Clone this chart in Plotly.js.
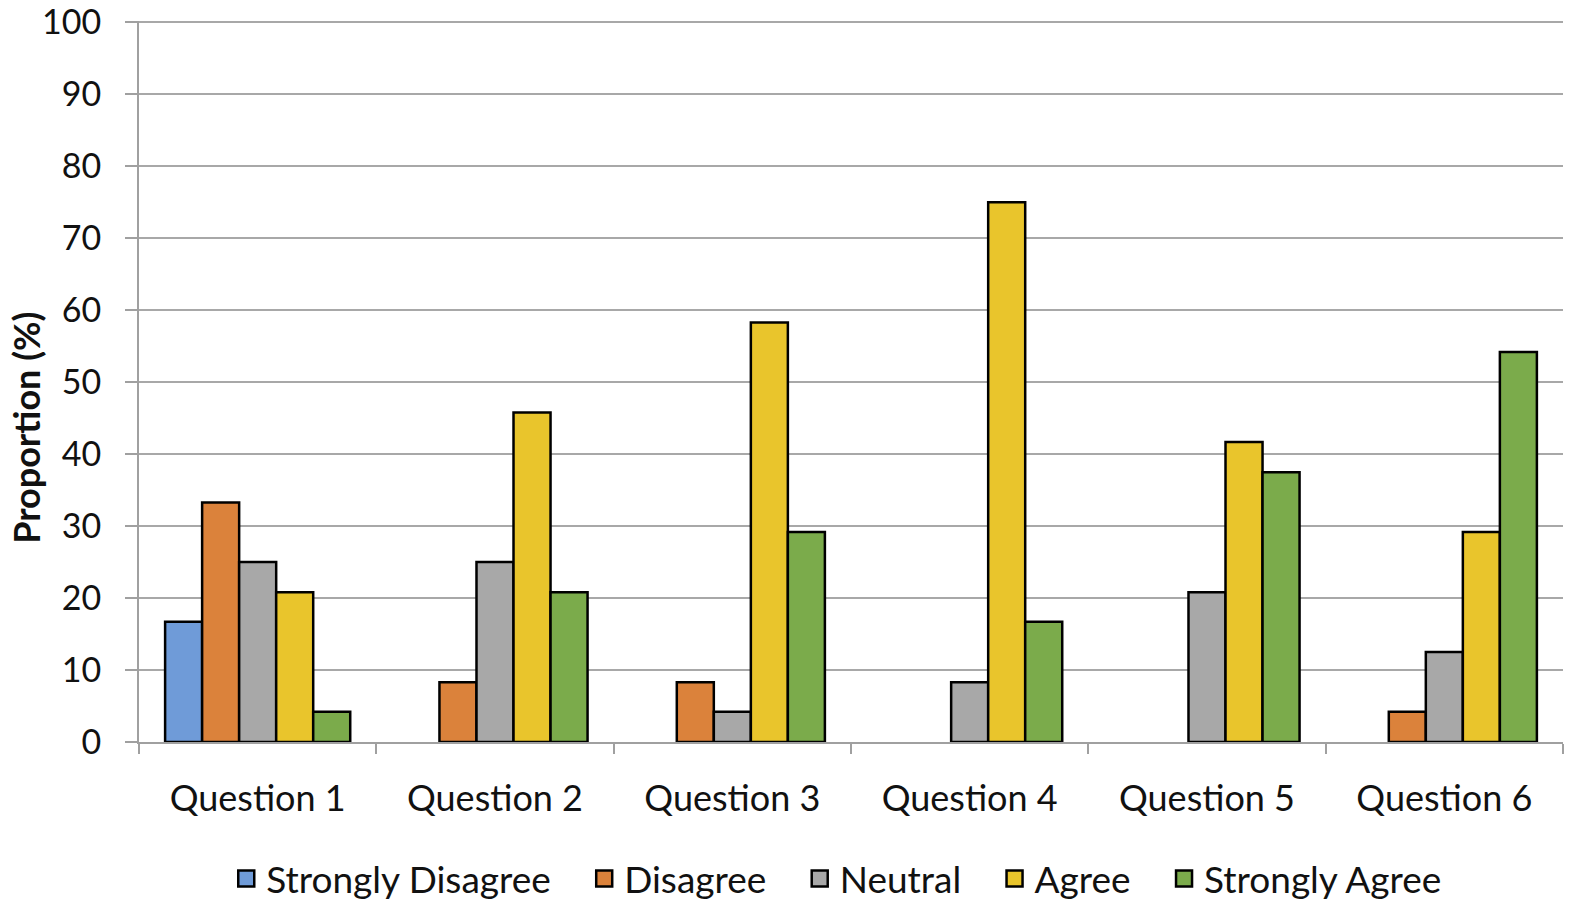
<!DOCTYPE html>
<html>
<head>
<meta charset="utf-8">
<script src="https://cdn.plot.ly/plotly-3.0.1.min.js"></script>
<style>html,body{margin:0;padding:0;background:#fff}#chart{width:1570px;height:904px}</style>
</head>
<body>
<div id="chart"></div>
<script>
const categories = ["Question 1","Question 2","Question 3","Question 4","Question 5","Question 6"];
// null = no bar drawn in the reference
const stronglyDisagree = [16.7, null, null, null, null, null];
const disagree = [33.3, 8.3, 8.3, null, null, 4.2];
const neutral = [25, 25, 4.2, 8.3, 20.8, 12.5];
const agree = [20.8, 45.8, 58.3, 75, 41.7, 29.2];
const stronglyAgree = [4.2, 20.8, 29.2, 16.7, 37.5, 54.2];
const seriesNames = ["Strongly Disagree","Disagree","Neutral","Agree","Strongly Agree"];
const seriesValues = [stronglyDisagree, disagree, neutral, agree, stronglyAgree];
const seriesColors = ["#6f9bd8","#db823b","#a8a8a8","#e9c52c","#7bab4b"];
const yTicks = [0,10,20,30,40,50,60,70,80,90,100];
const yTitle = "Proportion (%)";

const font = "Lato, 'Open Sans', sans-serif";
const pad = "\u00A0\u00A0\u00A0";
const traces = seriesNames.map((n,i)=>({
  type:'bar', name:n, x:categories, y:seriesValues[i], showlegend:false,
  marker:{color:seriesColors[i], line:{color:'#000', width:2.5}}
}));
// legend-only entries with square swatches
seriesNames.forEach((n,i)=>traces.push({
  type:'scatter', mode:'markers', name: i < seriesNames.length-1 ? n + pad : n, x:[null], y:[null],
  marker:{symbol:'square', size:22, color:seriesColors[i], line:{color:'#000', width:2.5}},
  showlegend:true
}));

const layout = {
  width:1570, height:904,
  margin:{l:139, r:7, t:21, b:162, autoexpand:false},
  paper_bgcolor:'#fff', plot_bgcolor:'#fff',
  barmode:'group', bargap:0.22, bargroupgap:0,
  font:{family:font, size:36, color:'#111'},
  xaxis:{
    type:'category', automargin:false,
    showgrid:false, showline:true, linecolor:'#a0a0a0', linewidth:2,
    ticks:'outside', tickson:'boundaries', ticklen:10, tickcolor:'#a0a0a0', tickwidth:2,
    tickfont:{family:font, size:36, color:'#111'}, ticklabelstandoff:24
  },
  yaxis:{
    automargin:false, ticklabeloverflow:'allow',
    range:[0,100.2], tickmode:'array', tickvals:yTicks, ticktext:yTicks.map(String),
    showgrid:true, gridcolor:'#a8a8a8', gridwidth:2,
    showline:true, linecolor:'#a0a0a0', linewidth:2, zeroline:false,
    ticks:'outside', ticklen:12, tickcolor:'#a0a0a0', tickwidth:2,
    tickfont:{family:font, size:34, color:'#111'}, ticklabelstandoff:17
  },
  annotations:[{
    text:'<b>'+yTitle+'</b>', textangle:-90, xref:'paper', yref:'paper',
    x:-0.079, y:0.435, xanchor:'center', yanchor:'middle', showarrow:false,
    font:{family:font, size:36, color:'#111'}
  }],
  legend:{orientation:'h', x:0.49, xanchor:'center', y:-0.19, yanchor:'middle',
    font:{family:font, size:37, color:'#111'}, itemwidth:30, tracegroupgap:0},
  showlegend:true
};
Plotly.newPlot('chart', traces, layout, {displayModeBar:false, staticPlot:true});
</script>
</body>
</html>
